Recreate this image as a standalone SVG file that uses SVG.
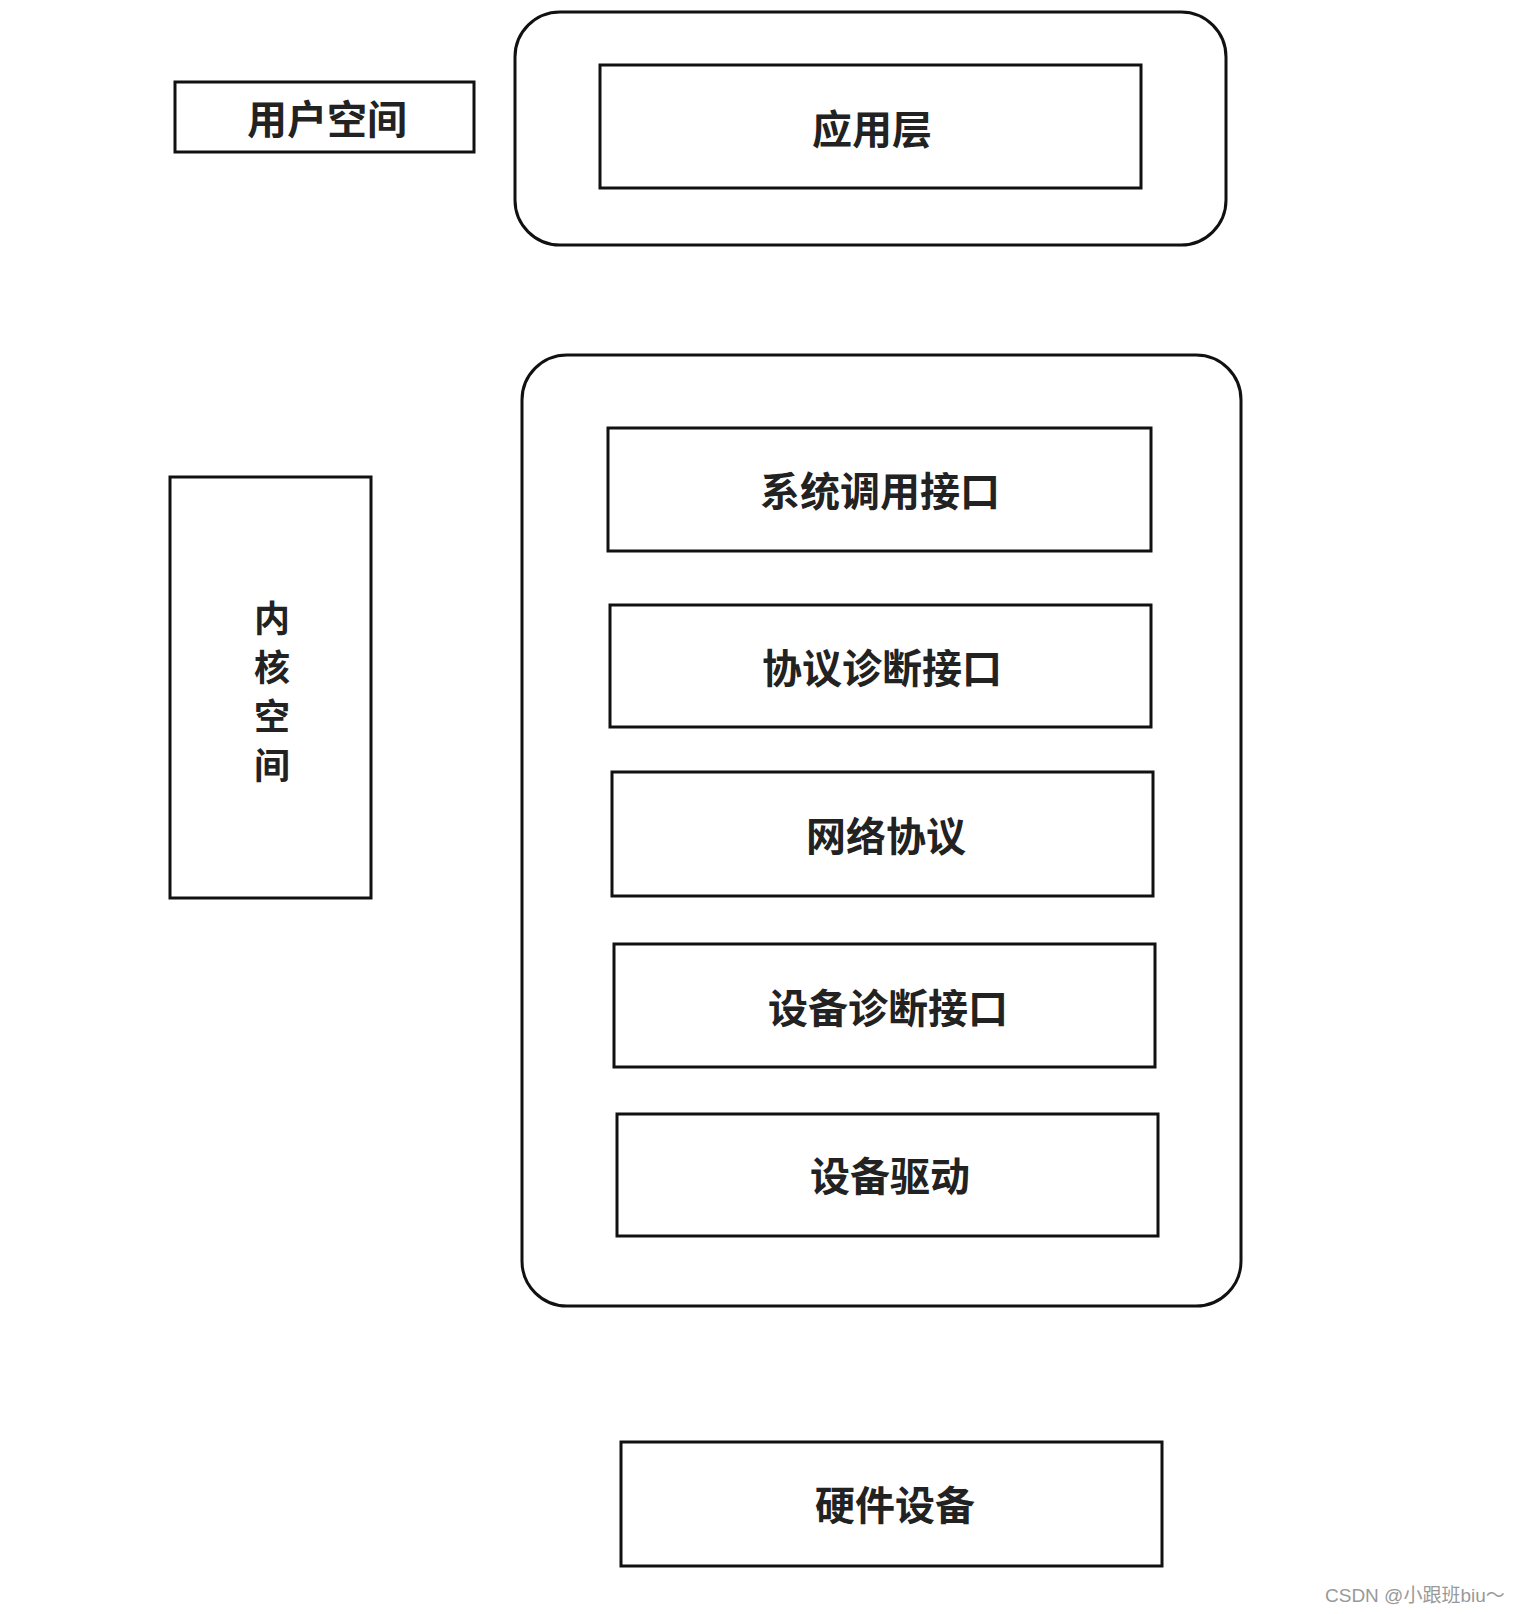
<svg xmlns="http://www.w3.org/2000/svg" width="1514" height="1614" viewBox="0 0 1514 1614">
<style>
.b{fill:none;stroke:#111;stroke-width:3}
.t{font-family:"Noto Sans CJK SC",sans-serif;font-size:40px;font-weight:bold;fill:#222;text-anchor:middle;dominant-baseline:central}
.v{font-size:36px}
.w{font-family:"Liberation Sans","Noto Sans CJK SC",sans-serif;font-size:19px;fill:#999}
</style>
<rect width="1514" height="1614" fill="#fff"/>
<g id="user-space"><rect class="b" x="175" y="82" width="299" height="70"/><text class="t" x="327" y="117">用户空间</text></g>
<g id="user-container"><rect class="b" x="515" y="12" width="711" height="233" rx="45"/></g>
<g id="app-layer"><rect class="b" x="600" y="65" width="541" height="123"/><text class="t" x="872" y="127">应用层</text></g>
<g id="kernel-container"><rect class="b" x="522" y="355" width="719" height="951" rx="45"/></g>
<g id="kernel-space"><rect class="b" x="170" y="477" width="201" height="421"/>
<text class="t v" x="272" y="616">内</text><text class="t v" x="272" y="665">核</text><text class="t v" x="272" y="714">空</text><text class="t v" x="272" y="763">间</text></g>
<g id="syscall"><rect class="b" x="608" y="428" width="543" height="123"/><text class="t" x="880" y="489">系统调用接口</text></g>
<g id="proto-diag"><rect class="b" x="610" y="605" width="541" height="122"/><text class="t" x="882" y="666">协议诊断接口</text></g>
<g id="net-proto"><rect class="b" x="612" y="772" width="541" height="124"/><text class="t" x="886" y="834">网络协议</text></g>
<g id="dev-diag"><rect class="b" x="614" y="944" width="541" height="123"/><text class="t" x="888" y="1006">设备诊断接口</text></g>
<g id="dev-driver"><rect class="b" x="617" y="1114" width="541" height="122"/><text class="t" x="890" y="1174">设备驱动</text></g>
<g id="hardware"><rect class="b" x="621" y="1442" width="541" height="124"/><text class="t" x="895" y="1503">硬件设备</text></g>
<g id="connectors"></g>
<text class="w" x="1325" y="1602">CSDN @小跟班biu～</text>
</svg>
